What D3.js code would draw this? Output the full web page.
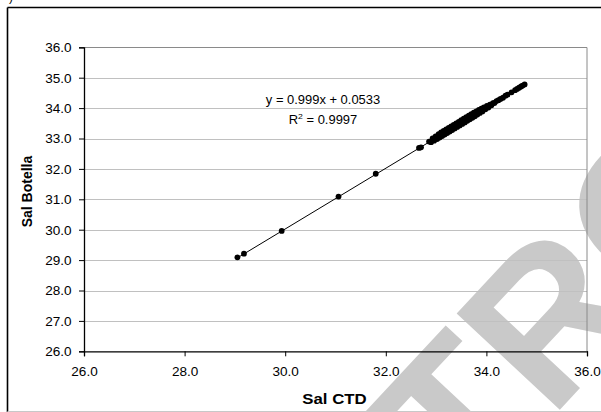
<!DOCTYPE html>
<html>
<head>
<meta charset="utf-8">
<script src="https://cdn.jsdelivr.net/npm/d3@7"></script>
<style>
  html, body { margin: 0; padding: 0; background: #fff; }
  svg { display: block; }
  text { font-family: "Liberation Sans", Arial, sans-serif; fill: #000; }
</style>
</head>
<body>
<svg id="chart" width="601" height="412"></svg>
<script>
// Salinity: CTD sensor vs bottle samples
const salCTD = [
  29.05, 29.18, 29.93, 31.06, 31.80, 32.66, 32.70,
  32.86, 32.90, 32.93, 32.96, 32.99, 33.02, 33.05, 33.07, 33.10, 33.12,
  33.15, 33.17, 33.20, 33.22, 33.25, 33.27, 33.30, 33.32, 33.35, 33.37,
  33.40, 33.42, 33.45, 33.47, 33.50, 33.52, 33.55, 33.57, 33.60, 33.62,
  33.65, 33.67, 33.70, 33.72, 33.75, 33.77, 33.80, 33.82, 33.85, 33.87,
  33.90, 33.92, 33.95, 33.98, 34.01, 34.04, 34.07, 34.10, 34.13, 34.16,
  34.20, 34.24, 34.28, 34.33, 34.38, 34.42, 34.50, 34.57, 34.61, 34.65,
  34.69, 34.72, 34.76
];
const salBotella = [
  29.09, 29.21, 29.96, 31.09, 31.84, 32.69, 32.71,
  32.90, 32.88, 33.00, 32.93, 33.07, 32.98, 33.14, 33.03, 33.20, 33.08,
  33.25, 33.13, 33.30, 33.18, 33.35, 33.23, 33.40, 33.28, 33.45, 33.33,
  33.50, 33.38, 33.55, 33.43, 33.60, 33.48, 33.65, 33.53, 33.70, 33.58,
  33.75, 33.63, 33.80, 33.68, 33.85, 33.73, 33.89, 33.79, 33.94, 33.84,
  33.98, 33.89, 34.02, 33.96, 34.07, 34.02, 34.11, 34.09, 34.16, 34.17,
  34.23, 34.26, 34.30, 34.34, 34.41, 34.44, 34.52, 34.59, 34.63, 34.67,
  34.71, 34.74, 34.78
];
// Linear fit reported on the chart
const fitSlope = 0.999;
const fitIntercept = 0.0533;
const fitR2 = 0.9997;
const axisTicks = [26, 28, 30, 32, 34, 36];
const gridValues = [26, 27, 28, 29, 30, 31, 32, 33, 34, 35, 36];
const xTitle = "Sal CTD";
const yTitle = "Sal Botella";
const watermark = "CONTROL";

const svg = d3.select("#chart");
const plot = { left: 84, right: 587, top: 47.3, bottom: 351.3 };
const stretch = 1.13;

const x = d3.scaleLinear().domain([26, 36]).range([plot.left, plot.right]);
const y = d3.scaleLinear().domain([26, 36]).range([plot.bottom, plot.top]);

svg.append("rect").attr("width", 601).attr("height", 412).attr("fill", "#fff");

// outer frame of the chart object
svg.append("line").attr("x1", 7.5).attr("x2", 7.5).attr("y1", 7.5).attr("y2", 412)
  .attr("stroke", "#000").attr("stroke-width", 1.6);
svg.append("line").attr("x1", 7.5).attr("x2", 601).attr("y1", 7.5).attr("y2", 7.5)
  .attr("stroke", "#000").attr("stroke-width", 1.6);
svg.append("line").attr("x1", 7.5).attr("x2", 601).attr("y1", 411.5).attr("y2", 411.5)
  .attr("stroke", "#c8c8c8").attr("stroke-width", 1);
svg.append("text").attr("x", 9).attr("y", 0.5).attr("font-size", 12).text(")");

// watermark
svg.append("text")
  .attr("transform", "translate(500,474) rotate(-47)")
  .attr("text-anchor", "middle")
  .attr("font-family", "'Liberation Serif', 'Times New Roman', serif")
  .attr("font-weight", "bold")
  .attr("font-size", 205)
  .style("fill", "#c9c9c9")
  .text(watermark);

// horizontal gridlines
svg.append("g").selectAll("line").data(gridValues.slice(1, -1)).join("line")
  .attr("x1", plot.left).attr("x2", plot.right)
  .attr("y1", d => Math.round(y(d)) + 0.5).attr("y2", d => Math.round(y(d)) + 0.5)
  .attr("stroke", "#c0c0c0").attr("stroke-width", 1);

// top and right plot-area border
svg.append("path")
  .attr("d", `M${plot.left},${Math.round(plot.top) + 0.5}H${plot.right}V${plot.bottom}`)
  .attr("fill", "none").attr("stroke", "#8a8a8a").attr("stroke-width", 1);

// axes
const fmt = d3.format(".1f");
const yAxis = svg.append("g")
  .attr("transform", `translate(${plot.left},0)`)
  .call(d3.axisLeft(y).tickValues(gridValues).tickSize(5).tickFormat(fmt));
const xAxis = svg.append("g")
  .attr("transform", `translate(0,${plot.bottom})`)
  .call(d3.axisBottom(x).tickValues(axisTicks).tickSize(5).tickFormat(fmt));

[yAxis, xAxis].forEach(g => {
  g.select(".domain").attr("stroke", "#000").attr("stroke-width", 1.3);
  g.selectAll(".tick line").attr("stroke", "#000");
  g.selectAll(".tick text")
    .attr("font-family", "'Liberation Sans', Arial, sans-serif")
    .attr("font-size", 12)
    .style("fill", "#000");
});
yAxis.selectAll(".tick text").attr("x", -11).attr("dy", "0.36em")
  .attr("transform", `scale(${stretch},1)`);
xAxis.selectAll(".tick text").attr("y", 25).attr("dy", 0)
  .attr("transform", `scale(${stretch},1)`);

// trendline over the span of the data
const xMin = d3.min(salCTD), xMax = d3.max(salCTD);
svg.append("line")
  .attr("x1", x(xMin)).attr("y1", y(fitSlope * xMin + fitIntercept))
  .attr("x2", x(xMax)).attr("y2", y(fitSlope * xMax + fitIntercept))
  .attr("stroke", "#000").attr("stroke-width", 1);

// sample points
svg.append("g").selectAll("circle").data(d3.range(salCTD.length)).join("circle")
  .attr("cx", i => x(salCTD[i]))
  .attr("cy", i => y(salBotella[i]))
  .attr("r", 2.9)
  .attr("fill", "#000");

// fit equation
const eq = svg.append("g").attr("transform", "translate(323,0) scale(1.08,1)");
eq.append("text").attr("y", 104.3).attr("text-anchor", "middle").attr("font-size", 12)
  .text(`y = ${fitSlope}x + ${fitIntercept}`);
const r2 = eq.append("text").attr("y", 124).attr("text-anchor", "middle").attr("font-size", 12);
r2.append("tspan").text("R");
r2.append("tspan").attr("dy", -5).attr("font-size", 8).text("2");
r2.append("tspan").attr("dy", 5).text(` = ${fitR2}`);

// axis titles
svg.append("text")
  .attr("transform", `translate(334.5,403.5) scale(1.12,1)`)
  .attr("text-anchor", "middle").attr("font-size", 15).attr("font-weight", "bold")
  .text(xTitle);
svg.append("text")
  .attr("transform", "translate(32,191.5) rotate(-90)")
  .attr("text-anchor", "middle").attr("font-size", 14).attr("font-weight", "bold")
  .text(yTitle);
</script>
</body>
</html>
